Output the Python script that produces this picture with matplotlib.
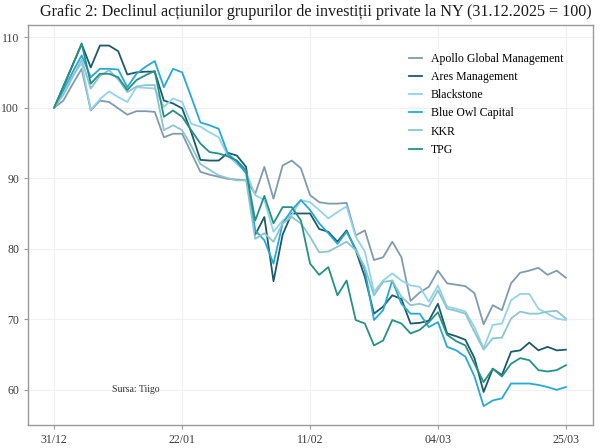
import matplotlib.pyplot as plt

dates = ["31/12", "22/01", "11/02", "04/03", "25/03"]
tick_pos = [0, 14, 28, 42, 56]

apollo = [100, 101.0, 103.3, 105.5, 99.6, 101.0, 100.8, 99.9, 99.0, 99.5, 99.5, 99.4,
          95.8, 96.3, 96.3, 93.6, 90.9, 90.5, 90.2, 89.9, 89.8, 89.7, 87.8, 91.6,
          87.1, 91.8, 92.5, 91.4, 87.6, 86.6, 86.4, 86.4, 86.5, 81.9, 82.6, 78.4,
          78.8, 81.0, 78.8, 72.6, 73.8, 74.6, 76.9, 75.1, 74.9, 74.7, 73.7, 69.3,
          72.0, 71.3, 75.1, 76.6, 76.9, 77.3, 76.3, 76.9, 75.9]
ares = [100, 103.0, 106.0, 109.0, 105.7, 108.8, 108.8, 108.0, 104.7, 105.0, 105.1, 105.1,
        101.0, 100.6, 99.9, 96.5, 92.6, 92.5, 92.5, 93.6, 93.2, 91.6, 82.0, 84.5,
        75.4, 82.0, 85.0, 85.0, 85.0, 82.8, 82.4, 81.0, 82.6, 79.8, 76.0, 70.8,
        71.8, 73.4, 72.9, 69.4, 69.5, 69.8, 72.2, 68.0, 67.6, 67.1, 64.5, 59.7,
        63.0, 62.1, 65.4, 65.6, 66.7, 65.6, 66.1, 65.6, 65.7]
blackstone = [100, 102.0, 104.5, 106.3, 99.7, 101.2, 102.3, 101.5, 100.8, 102.9, 102.8, 102.7,
              100.1, 101.3, 100.8, 97.7, 97.3, 96.5, 95.8, 93.2, 92.0, 90.9, 87.6, 86.9,
              82.4, 84.0, 84.8, 86.9, 86.6, 85.5, 84.3, 85.2, 86.0, 81.7, 79.6, 73.9,
              75.5, 76.5, 75.5, 74.8, 74.6, 72.5, 74.8, 71.8, 71.5, 71.1, 68.9, 65.9,
              69.2, 69.4, 72.7, 73.6, 73.6, 71.5, 70.8, 70.1, 69.9]
blue_owl = [100, 102.5, 105.0, 107.4, 104.3, 105.5, 105.5, 105.4, 102.9, 104.8, 105.8, 106.6,
            102.9, 105.5, 105.0, 101.5, 97.9, 97.5, 97.0, 93.5, 92.3, 90.7, 82.6, 81.2,
            77.9, 83.6, 85.5, 86.9, 85.5, 83.6, 82.2, 80.7, 82.4, 80.0, 77.0, 69.9,
            71.3, 75.5, 72.2, 70.8, 70.8, 68.9, 69.6, 66.1, 65.6, 64.7, 61.9, 57.7,
            58.5, 58.8, 60.9, 60.9, 60.9, 60.7, 60.4, 60.0, 60.4]
kkr = [100, 101.8, 104.3, 106.8, 102.7, 104.5, 105.3, 104.0, 102.2, 103.0, 103.2, 103.2,
       96.8, 97.5, 96.8, 94.6, 92.0, 91.2, 90.4, 90.0, 89.7, 89.7, 81.4, 82.2,
       81.0, 83.6, 84.5, 83.6, 81.7, 79.5, 79.6, 80.3, 81.0, 79.8, 77.4, 73.4,
       75.3, 75.5, 73.2, 72.0, 72.2, 71.8, 74.1, 71.5, 71.2, 70.8, 68.2, 65.7,
       67.3, 67.4, 70.1, 71.1, 70.8, 70.8, 71.1, 71.2, 70.1]
tpg = [100, 103.0, 106.0, 109.1, 103.4, 104.8, 104.8, 104.3, 102.5, 103.9, 104.6, 105.2,
       98.7, 99.6, 98.7, 96.8, 94.9, 93.7, 93.5, 93.1, 92.5, 91.1, 84.0, 87.5,
       83.6, 85.9, 85.9, 84.0, 77.9, 76.3, 77.4, 73.4, 75.5, 69.9, 69.4, 66.3,
       67.0, 69.9, 69.4, 68.0, 68.5, 69.6, 71.0, 67.8, 66.9, 66.3, 63.7, 61.1,
       63.0, 61.9, 63.7, 64.5, 64.2, 62.8, 62.6, 62.8, 63.5]

names = ["Apollo Global Management", "Ares Management", "Blackstone",
         "Blue Owl Capital", "KKR", "TPG"]
series = [apollo, ares, blackstone, blue_owl, kkr, tpg]
colors = ["#7f9cad", "#1d5a6a", "#93d3ea", "#27a9d6", "#8cc5cc", "#259185"]

plt.rcParams["font.family"] = ["Liberation Serif", "DejaVu Serif"]

fig = plt.figure(figsize=(6, 4.48), dpi=100)
ax = fig.add_axes([0.047, 0.051, 0.941, 0.893])

x = list(range(len(apollo)))
for name, vals, c in zip(names, series, colors):
    ax.plot(x, vals, color=c, lw=1.3, label=name)

ax.set_xlim(-2.85, 58.95)
ax.set_ylim(55, 111.7)
ax.set_xticks(tick_pos)
ax.set_xticklabels(dates)
ax.set_yticks([60, 70, 80, 90, 100, 110])
ax.grid(True, color="#f0f0f0", lw=0.8)
ax.set_axisbelow(True)
for s in ax.spines.values():
    s.set_color("#9a9a9a")
    s.set_linewidth(1.0)
ax.tick_params(colors="#9a9a9a", labelcolor="#3a3a3a", labelsize=8.5, length=3)

ax.text(8.9, 60, "Sursa: Tiigo", fontsize=7, color="#333333",
        ha="center", va="center")

ax.legend(loc="upper left", bbox_to_anchor=(0.664, 0.945), frameon=False, borderpad=0,
          fontsize=8.5, handlelength=1.1, labelspacing=0.52, handletextpad=0.75)

fig.suptitle("Grafic 2: Declinul acțiunilor grupurilor de investiții private la NY (31.12.2025 = 100)",
             x=0.527, y=0.99, fontsize=11.6, color="#1a1a1a")

fig.savefig("out.png", dpi=100)
